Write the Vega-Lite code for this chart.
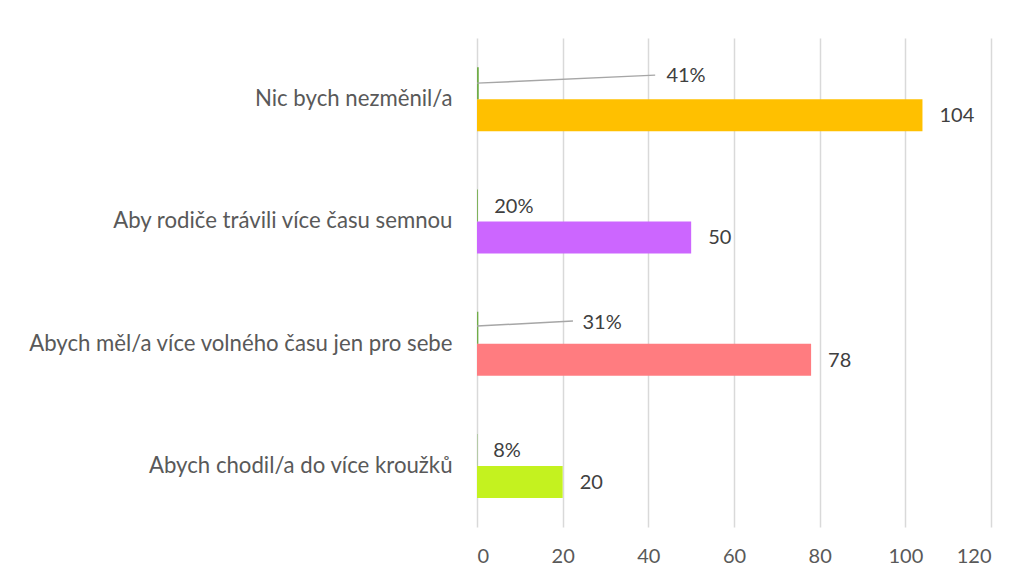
{
  "$schema": "https://vega.github.io/schema/vega-lite/v6.json",
  "width": 514,
  "height": 489,
  "autosize": {"type": "none"},
  "padding": {"left": 477, "top": 38, "right": 39, "bottom": 56},
  "background": "white",
  "config": {"font": "Lato", "view": {"stroke": null}},
  "data": {
    "values": [
      {"cat": "Nic bych nezměnil/a", "count": 104, "pct": 0.41},
      {"cat": "Aby rodiče trávili více času semnou", "count": 50, "pct": 0.20},
      {"cat": "Abych měl/a více volného času jen pro sebe", "count": 78, "pct": 0.31},
      {"cat": "Abych chodil/a do více kroužků", "count": 20, "pct": 0.08}
    ]
  },
  "encoding": {
    "y": {
      "field": "cat",
      "type": "nominal",
      "sort": null,
      "scale": {"paddingInner": 0, "paddingOuter": 0},
      "axis": {
        "title": null,
        "domain": false,
        "ticks": false,
        "labelPadding": 25,
        "labelFontSize": 22.2,
        "labelColor": "#595959",
        "labelLimit": 600
      }
    }
  },
  "layer": [
    {
      "mark": {"type": "bar", "height": 32, "yOffset": 16},
      "encoding": {
        "x": {
          "field": "count",
          "type": "quantitative",
          "scale": {"domain": [0, 120], "nice": false},
          "axis": {
            "title": null,
            "values": [0, 20, 40, 60, 80, 100, 120],
            "domain": false,
            "ticks": false,
            "grid": true,
            "gridColor": "#D9D9D9",
            "gridWidth": 1.5,
            "labelPadding": 19,
            "labelFontSize": 20,
            "labelColor": "#595959"
          }
        },
        "color": {
          "field": "cat",
          "type": "nominal",
          "legend": null,
          "scale": {
            "domain": ["Nic bych nezměnil/a", "Aby rodiče trávili více času semnou", "Abych měl/a více volného času jen pro sebe", "Abych chodil/a do více kroužků"],
            "range": ["#FFC000", "#CC66FF", "#FF7C80", "#C4F21F"]
          }
        }
      }
    },
    {
      "mark": {"type": "bar", "height": 32, "yOffset": -16, "color": "#70AD47"},
      "encoding": {"x": {"field": "pct", "type": "quantitative"}}
    },
    {
      "mark": {"type": "text", "align": "left", "baseline": "middle", "dx": 17, "yOffset": 17, "fontSize": 20, "color": "#404040"},
      "encoding": {
        "x": {"field": "count", "type": "quantitative"},
        "text": {"field": "count", "type": "quantitative"}
      }
    },
    {
      "transform": [{"filter": "datum.cat == 'Nic bych nezměnil/a'"}],
      "mark": {"type": "rule", "yOffset": -16, "y2Offset": -24, "color": "#A6A6A6", "strokeWidth": 1.5},
      "encoding": {
        "x": {"datum": 0},
        "x2": {"datum": 41.6},
        "y2": {"field": "cat"}
      }
    },
    {
      "transform": [{"filter": "datum.cat == 'Abych měl/a více volného času jen pro sebe'"}],
      "mark": {"type": "rule", "yOffset": -17.6, "y2Offset": -22.6, "color": "#A6A6A6", "strokeWidth": 1.5},
      "encoding": {
        "x": {"datum": 0},
        "x2": {"datum": 22.4},
        "y2": {"field": "cat"}
      }
    },
    {
      "transform": [{"filter": "datum.cat == 'Nic bych nezměnil/a'"}],
      "mark": {"type": "text", "align": "center", "baseline": "middle", "yOffset": -23, "fontSize": 20, "color": "#404040"},
      "encoding": {
        "x": {"datum": 48.8},
        "text": {"field": "pct", "type": "quantitative", "format": ".0%"}
      }
    },
    {
      "transform": [{"filter": "datum.cat == 'Aby rodiče trávili více času semnou'"}],
      "mark": {"type": "text", "align": "center", "baseline": "middle", "yOffset": -14.4, "fontSize": 20, "color": "#404040"},
      "encoding": {
        "x": {"datum": 8.6},
        "text": {"field": "pct", "type": "quantitative", "format": ".0%"}
      }
    },
    {
      "transform": [{"filter": "datum.cat == 'Abych měl/a více volného času jen pro sebe'"}],
      "mark": {"type": "text", "align": "center", "baseline": "middle", "yOffset": -20.6, "fontSize": 20, "color": "#404040"},
      "encoding": {
        "x": {"datum": 29.2},
        "text": {"field": "pct", "type": "quantitative", "format": ".0%"}
      }
    },
    {
      "transform": [{"filter": "datum.cat == 'Abych chodil/a do více kroužků'"}],
      "mark": {"type": "text", "align": "center", "baseline": "middle", "yOffset": -15, "fontSize": 20, "color": "#404040"},
      "encoding": {
        "x": {"datum": 7.0},
        "text": {"field": "pct", "type": "quantitative", "format": ".0%"}
      }
    }
  ]
}
